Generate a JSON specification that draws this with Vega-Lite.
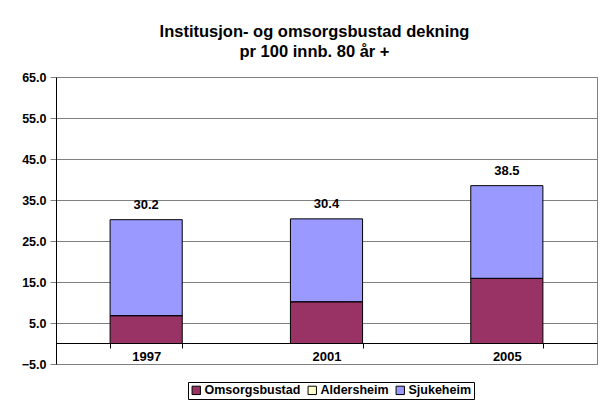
{
  "$schema": "https://vega.github.io/schema/vega-lite/v6.json",
  "autosize": "none",
  "width": 541,
  "height": 287,
  "padding": {"left": 56, "top": 77, "right": 10, "bottom": 36},
  "background": "white",
  "title": {
    "text": ["Institusjon- og omsorgsbustad dekning", "pr 100 innb. 80 år +"],
    "font": "Liberation Sans",
    "fontSize": 16.5,
    "fontWeight": "bold",
    "color": "black",
    "lineHeight": 20,
    "anchor": "middle",
    "dx": -12,
    "offset": 11
  },
  "data": {
    "values": [
      {"year": "1997", "type": "Omsorgsbustad", "order": 1, "value": 6.8},
      {"year": "1997", "type": "Aldersheim", "order": 2, "value": 0},
      {"year": "1997", "type": "Sjukeheim", "order": 3, "value": 23.4},
      {"year": "2001", "type": "Omsorgsbustad", "order": 1, "value": 10.2},
      {"year": "2001", "type": "Aldersheim", "order": 2, "value": 0},
      {"year": "2001", "type": "Sjukeheim", "order": 3, "value": 20.2},
      {"year": "2005", "type": "Omsorgsbustad", "order": 1, "value": 15.9},
      {"year": "2005", "type": "Aldersheim", "order": 2, "value": 0},
      {"year": "2005", "type": "Sjukeheim", "order": 3, "value": 22.6}
    ]
  },
  "encoding": {
    "x": {
      "field": "year",
      "type": "nominal",
      "title": null,
      "scale": {"paddingInner": 0.6, "paddingOuter": 0.3},
      "axis": {
        "offset": -21,
        "domainColor": "black",
        "domainWidth": 1,
        "tickBand": "extent",
        "tickColor": "black",
        "tickSize": 5,
        "labelAngle": 0,
        "labelFont": "Liberation Sans",
        "labelFontSize": 13,
        "labelFontWeight": "bold",
        "labelColor": "black",
        "labelPadding": 2,
        "grid": false
      }
    }
  },
  "layer": [
    {
      "mark": {"type": "bar", "stroke": "black", "strokeWidth": 1},
      "encoding": {
        "y": {
          "field": "value",
          "type": "quantitative",
          "stack": "zero",
          "title": null,
          "scale": {"domain": [-5, 65], "nice": false, "zero": false},
          "axis": {
            "values": [-5, 5, 15, 25, 35, 45, 55, 65],
            "format": ".1f",
            "grid": true,
            "gridColor": "#808080",
            "gridWidth": 1,
            "domainColor": "black",
            "tickColor": "#808080",
            "tickSize": 6,
            "labelPadding": 4,
            "labelFont": "Liberation Sans",
            "labelFontSize": 12.5,
            "labelFontWeight": "bold",
            "labelColor": "black"
          }
        },
        "color": {
          "field": "type",
          "type": "nominal",
          "title": null,
          "sort": ["Omsorgsbustad", "Aldersheim", "Sjukeheim"],
          "scale": {
            "domain": ["Omsorgsbustad", "Aldersheim", "Sjukeheim"],
            "range": ["#993366", "#FFFFCC", "#9999FF"]
          },
          "legend": {
            "orient": "none",
            "legendX": 132,
            "legendY": 305,
            "direction": "horizontal",
            "strokeColor": "black",
            "padding": 2,
            "symbolType": "square",
            "symbolSize": 70,
            "symbolStrokeColor": "black",
            "symbolStrokeWidth": 1,
            "labelFont": "Liberation Sans",
            "labelFontSize": 12.5,
            "labelFontWeight": "bold",
            "labelColor": "black",
            "labelOffset": 2,
            "columnPadding": 5
          }
        },
        "order": {"field": "order", "type": "quantitative"}
      }
    },
    {
      "transform": [
        {"aggregate": [{"op": "sum", "field": "value", "as": "total"}], "groupby": ["year"]}
      ],
      "mark": {
        "type": "text",
        "font": "Liberation Sans",
        "fontSize": 13,
        "fontWeight": "bold",
        "color": "black",
        "dy": -15
      },
      "encoding": {
        "y": {"field": "total", "type": "quantitative"},
        "text": {"field": "total", "type": "quantitative", "format": ".1f"}
      }
    }
  ],
  "config": {
    "view": {"stroke": "#808080", "strokeWidth": 1}
  }
}
